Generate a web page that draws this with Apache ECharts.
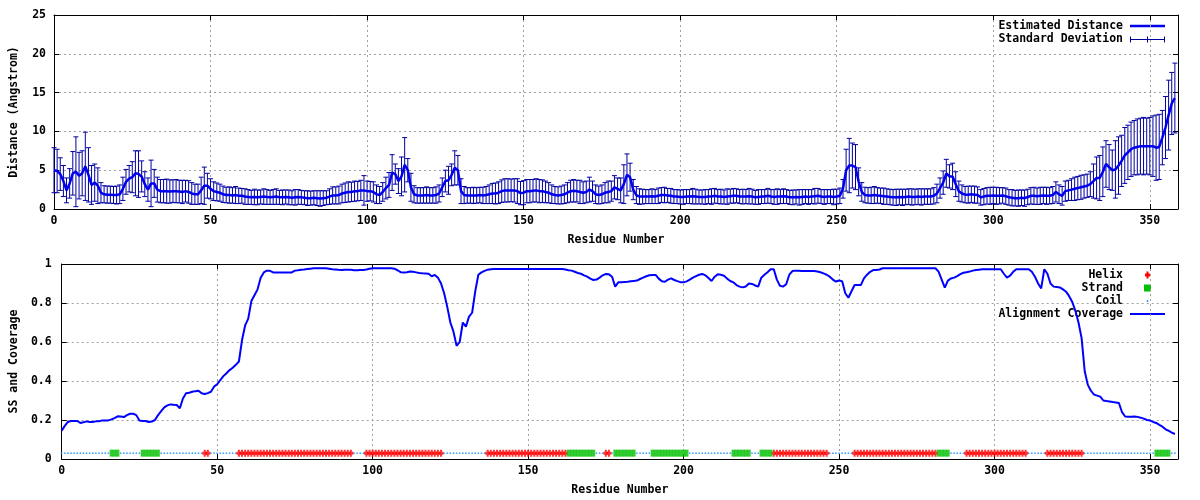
<!DOCTYPE html>
<html><head><meta charset="utf-8">
<script src="https://cdn.jsdelivr.net/npm/echarts@6/dist/echarts.min.js"></script>
<style>html,body{margin:0;padding:0;background:#fff}#c{width:1200px;height:500px}</style>
</head><body><div id="c"></div><script>
// ---------- data ----------
const FIRST_RESIDUE = 0;
const distance = [
5.0,4.9,4.5,3.6,2.4,3.3,4.6,4.8,4.3,4.6,
5.5,4.4,3.1,3.4,3.0,2.1,1.9,1.85,1.85,1.8,
1.8,1.9,2.6,3.5,3.9,4.1,4.6,4.5,4.2,3.2,
2.5,3.3,3.3,2.5,2.3,2.3,2.3,2.25,2.3,2.3,
2.25,2.2,2.3,2.2,2.0,1.9,1.9,2.4,3.0,3.0,
2.6,2.3,2.2,2.1,1.9,1.8,1.8,1.75,1.8,1.7,
1.7,1.6,1.55,1.5,1.55,1.5,1.55,1.6,1.55,1.5,
1.55,1.6,1.5,1.5,1.55,1.5,1.45,1.5,1.55,1.5,
1.45,1.4,1.4,1.45,1.4,1.35,1.4,1.45,1.6,1.75,
1.75,1.8,2.0,2.1,2.2,2.2,2.3,2.3,2.4,2.4,
2.3,2.3,2.2,1.9,1.8,2.2,2.7,3.1,4.7,4.5,
3.6,4.2,5.7,5.0,2.8,1.9,1.75,1.75,1.75,1.8,
1.75,1.75,1.8,2.0,2.8,3.6,3.7,4.4,5.3,5.0,
2.3,1.8,1.75,1.75,1.75,1.75,1.8,1.75,1.8,1.9,
2.0,2.0,2.1,2.3,2.4,2.4,2.4,2.4,2.3,2.05,
2.1,2.3,2.3,2.35,2.4,2.3,2.3,2.2,2.1,1.9,
1.8,1.75,1.8,1.9,2.1,2.3,2.35,2.3,2.2,2.1,
2.2,2.5,2.3,1.9,1.8,1.9,2.1,2.2,2.3,2.8,
2.6,2.4,3.2,4.4,4.1,2.5,1.8,1.6,1.6,1.6,
1.6,1.65,1.6,1.7,1.8,1.8,1.75,1.7,1.6,1.6,
1.55,1.55,1.6,1.6,1.65,1.6,1.55,1.55,1.55,1.6,
1.6,1.7,1.6,1.6,1.55,1.6,1.65,1.7,1.7,1.6,
1.6,1.6,1.65,1.6,1.5,1.55,1.6,1.6,1.7,1.6,
1.55,1.6,1.6,1.65,1.6,1.5,1.5,1.55,1.5,1.55,
1.6,1.55,1.6,1.65,1.7,1.6,1.55,1.6,1.6,1.55,
1.6,1.7,2.6,5.0,5.6,5.6,5.4,3.5,2.2,1.8,
1.75,1.75,1.8,1.75,1.7,1.65,1.6,1.55,1.5,1.5,
1.55,1.5,1.55,1.6,1.55,1.55,1.6,1.55,1.6,1.6,
1.6,1.7,2.0,2.7,3.4,4.6,4.2,4.2,3.2,2.3,
2.0,1.85,1.85,1.9,1.85,1.8,1.5,1.6,1.7,1.7,
1.75,1.7,1.7,1.75,1.65,1.5,1.45,1.4,1.4,1.45,
1.4,1.55,1.7,1.7,1.65,1.7,1.75,1.7,1.7,1.8,
2.2,1.9,1.7,2.3,2.4,2.5,2.6,2.7,2.8,2.9,
3.0,3.2,3.6,4.0,4.0,4.8,5.8,5.4,5.0,5.1,
5.6,6.2,6.9,7.3,7.7,7.9,8.0,8.1,8.1,8.1,
8.1,8.1,7.9,8.0,9.2,10.5,12.1,13.6,14.3
];
const stdDev = [
2.9,2.8,2.1,2.0,1.6,1.9,2.8,4.5,3.0,2.9,
4.4,3.5,2.5,2.4,2.3,1.3,1.1,1.1,1.1,1.1,
1.15,1.2,1.5,1.6,1.7,2.0,2.9,3.0,2.0,1.6,
1.5,3.0,1.8,1.6,1.5,1.5,1.55,1.5,1.45,1.5,
1.45,1.5,1.4,1.45,1.4,1.3,1.3,1.7,2.4,1.6,
1.3,1.2,1.15,1.1,1.05,1.0,1.05,1.0,1.1,1.0,
0.95,1.0,0.95,0.9,1.0,0.95,0.9,1.0,0.95,0.9,
0.95,1.0,0.9,0.95,0.9,0.95,0.9,1.0,0.95,0.9,
0.9,0.95,0.9,0.9,0.95,1.0,0.95,0.9,1.0,1.1,
1.1,1.15,1.2,1.25,1.3,1.25,1.3,1.25,1.3,1.9,
1.3,1.25,1.3,1.2,1.1,1.2,1.4,1.6,2.3,1.3,
1.6,2.5,3.5,1.5,1.8,1.1,1.0,1.0,1.0,1.05,
1.0,1.0,1.05,1.1,1.2,1.4,1.8,1.4,2.2,1.9,
1.6,1.1,1.0,1.0,1.05,1.0,1.0,1.05,1.1,1.2,
1.3,1.35,1.4,1.45,1.5,1.5,1.45,1.5,1.6,1.5,
1.55,1.5,1.5,1.45,1.5,1.5,1.45,1.4,1.3,1.2,
1.1,1.1,1.15,1.2,1.3,1.4,1.45,1.4,1.5,1.4,
1.4,1.6,1.3,1.2,1.15,1.2,1.3,1.4,1.3,1.5,
1.4,1.6,2.5,2.7,1.8,1.3,1.1,1.0,0.95,0.9,
0.9,0.95,0.9,1.0,0.95,1.0,0.9,0.95,0.9,0.9,
0.9,0.95,0.9,0.9,1.0,0.95,0.9,0.9,0.95,0.9,
1.0,0.95,0.9,0.95,0.9,1.0,0.9,0.95,0.9,0.9,
0.95,0.9,1.0,0.95,0.9,0.95,0.9,0.9,0.95,0.9,
0.95,1.0,0.9,0.95,0.9,0.9,0.95,0.9,1.0,0.95,
0.9,0.95,0.9,1.0,0.95,0.9,0.95,0.9,0.9,1.0,
0.95,1.0,1.2,2.7,3.5,2.9,2.9,1.8,1.2,1.0,
1.0,1.05,1.1,1.0,1.0,1.05,1.0,1.0,1.0,1.05,
1.0,1.05,1.0,1.0,1.05,1.0,1.0,1.05,1.0,1.0,
1.0,1.05,1.2,1.3,1.5,1.8,1.5,1.7,1.6,1.3,
1.1,1.05,1.1,1.05,1.1,1.05,1.0,1.05,1.05,1.1,
1.05,1.1,1.05,1.0,1.05,1.0,1.05,1.0,1.05,1.0,
1.05,1.0,1.05,1.1,1.05,1.1,1.05,1.1,1.05,1.1,
1.3,1.2,1.2,1.3,1.3,1.4,1.5,1.5,1.55,1.5,
1.5,1.6,2.2,2.7,2.9,3.2,3.0,2.9,2.6,3.7,
3.7,3.3,3.6,3.5,3.5,3.5,3.6,3.6,3.7,3.6,
3.7,3.9,4.2,4.2,3.5,4.0,4.5,4.0,4.5
];
const coverage = [
0.145,0.17,0.19,0.195,0.195,0.195,0.185,0.188,0.193,0.19,
0.19,0.193,0.193,0.198,0.198,0.198,0.203,0.21,0.219,0.218,
0.215,0.225,0.232,0.232,0.225,0.197,0.195,0.195,0.19,0.192,
0.2,0.225,0.245,0.265,0.275,0.28,0.278,0.277,0.26,0.31,
0.337,0.34,0.345,0.348,0.35,0.337,0.333,0.338,0.345,0.371,
0.383,0.405,0.425,0.44,0.456,0.468,0.483,0.5,0.61,0.685,
0.72,0.81,0.84,0.87,0.93,0.957,0.966,0.965,0.957,0.957,
0.957,0.957,0.957,0.957,0.957,0.966,0.968,0.971,0.972,0.974,
0.976,0.978,0.978,0.978,0.978,0.978,0.976,0.973,0.972,0.97,
0.969,0.97,0.971,0.97,0.968,0.968,0.969,0.969,0.972,0.976,
0.978,0.978,0.978,0.978,0.978,0.978,0.978,0.976,0.968,0.958,
0.956,0.958,0.961,0.96,0.957,0.954,0.952,0.951,0.95,0.937,
0.944,0.93,0.9,0.85,0.78,0.7,0.653,0.58,0.6,0.7,
0.679,0.73,0.75,0.86,0.945,0.957,0.965,0.971,0.973,0.974,
0.974,0.974,0.974,0.974,0.974,0.974,0.974,0.974,0.974,0.974,
0.974,0.974,0.974,0.974,0.974,0.974,0.974,0.974,0.974,0.974,
0.974,0.974,0.972,0.968,0.966,0.96,0.954,0.95,0.942,0.935,
0.925,0.918,0.92,0.93,0.942,0.949,0.947,0.935,0.884,0.906,
0.907,0.908,0.909,0.911,0.913,0.915,0.923,0.93,0.937,0.942,
0.944,0.944,0.925,0.911,0.909,0.92,0.926,0.918,0.912,0.907,
0.906,0.911,0.92,0.93,0.938,0.945,0.949,0.942,0.928,0.913,
0.935,0.947,0.945,0.94,0.925,0.913,0.906,0.892,0.884,0.88,
0.885,0.9,0.898,0.89,0.884,0.93,0.945,0.958,0.973,0.973,
0.92,0.888,0.884,0.896,0.945,0.964,0.966,0.965,0.964,0.964,
0.964,0.964,0.964,0.962,0.958,0.952,0.945,0.935,0.92,0.91,
0.915,0.912,0.85,0.827,0.86,0.892,0.892,0.892,0.926,0.945,
0.96,0.969,0.969,0.972,0.978,0.978,0.978,0.978,0.978,0.978,
0.978,0.978,0.978,0.978,0.978,0.978,0.978,0.978,0.978,0.978,
0.978,0.978,0.961,0.92,0.879,0.915,0.926,0.93,0.938,0.948,
0.955,0.958,0.961,0.966,0.969,0.971,0.973,0.973,0.973,0.973,
0.973,0.973,0.973,0.95,0.93,0.94,0.96,0.973,0.973,0.973,
0.973,0.973,0.96,0.935,0.9,0.875,0.973,0.95,0.9,0.884,
0.882,0.88,0.87,0.858,0.835,0.805,0.76,0.7,0.62,0.45,
0.38,0.35,0.33,0.325,0.32,0.3,0.297,0.295,0.292,0.29,
0.287,0.24,0.218,0.217,0.217,0.218,0.216,0.212,0.207,0.2,
0.197,0.19,0.185,0.175,0.166,0.152,0.145,0.135,0.128
];
const helixRanges = [[46,47],[57,93],[98,122],[137,162],[175,176],[229,246],[255,281],[291,310],[317,328]];
const strandRanges = [[16,18],[26,31],[163,171],[178,184],[190,201],[216,221],[225,228],[282,285],[352,356]];

// ---------- derived ----------
if (distance.length !== stdDev.length || distance.length !== coverage.length) {
  throw new Error('length mismatch ' + distance.length + ' ' + stdDev.length + ' ' + coverage.length);
}
const residues = distance.map((_, i) => FIRST_RESIDUE + i);
const inRanges = (r, ranges) => ranges.some(([a, b]) => r >= a && r <= b);
const SS_LEVEL = 0.03;
const helixPts = residues.filter(r => inRanges(r, helixRanges)).map(r => [r, SS_LEVEL]);
const strandPts = residues.filter(r => inRanges(r, strandRanges)).map(r => [r, SS_LEVEL]);
const coilPts = residues.filter(r => !inRanges(r, helixRanges) && !inRanges(r, strandRanges)).map(r => [r, SS_LEVEL]);

const FONT = 'DejaVu Sans Mono';
const txt = { color: '#000', fontFamily: FONT, fontWeight: 'bold', fontSize: 11.5 };
const gridLine = { show: true, lineStyle: { color: '#a0a0a0', type: [2, 3], width: 1 } };
const blackLine = { show: true, onZero: false, lineStyle: { color: '#000', width: 1 } };
const tickIn = { show: true, inside: true, length: 5, lineStyle: { color: '#000' } };

function xAxes(gi) {
  return [
    { type: 'value', gridIndex: gi, min: 0, max: 359, interval: 50, position: 'bottom',
      axisLine: blackLine, axisTick: tickIn, splitLine: gridLine,
      axisLabel: Object.assign({ margin: 6, showMaxLabel: false,
        formatter: v => (v % 50 === 0 ? String(v) : '') }, txt),
      name: 'Residue Number', nameLocation: 'middle', nameGap: 25, nameTextStyle: txt },
    { type: 'value', gridIndex: gi, min: 0, max: 359, interval: 50, position: 'top',
      axisLine: blackLine, axisTick: tickIn, splitLine: { show: false }, axisLabel: { show: false } }
  ];
}
function yAxes(gi, max, interval, name, margin, nameGap) {
  return [
    { type: 'value', gridIndex: gi, min: 0, max, interval, position: 'left',
      axisLine: blackLine, axisTick: tickIn, splitLine: gridLine,
      axisLabel: Object.assign({ margin }, txt),
      name, nameLocation: 'middle', nameGap, nameRotate: 90, nameTextStyle: txt },
    { type: 'value', gridIndex: gi, min: 0, max, interval, position: 'right',
      axisLine: blackLine, axisTick: tickIn, splitLine: { show: false }, axisLabel: { show: false } }
  ];
}

const ERR_COLOR = '#0000a0';
const LINE_COLOR = '#0000ee';
const HELIX_PATH = 'path://M1.5,0H3.5V2H5V5H3.5V7H1.5V5H0V2H1.5Z';

const legendText = (t, y) => ({ type: 'text', x: 1123, y,
  style: { text: t, align: 'right', verticalAlign: 'middle', fill: '#000',
    fontFamily: FONT, fontWeight: 'bold', fontSize: 11.5 } });

const option = {
  animation: false,
  backgroundColor: '#fff',
  grid: [
    { left: 52, right: 22, top: 15, height: 194 },
    { left: 59, right: 22, top: 264, height: 195 }
  ],
  xAxis: [...xAxes(0), ...xAxes(1)],
  yAxis: [...yAxes(0, 25, 5, 'Distance (Angstrom)', 8, 34), ...yAxes(1, 1, 0.2, 'SS and Coverage', 10, 41)],
  series: [
    { type: 'custom', name: 'Standard Deviation', xAxisIndex: 0, yAxisIndex: 0, z: 2,
      data: residues.map((r, i) => [r, distance[i] - stdDev[i], distance[i] + stdDev[i]]),
      encode: { x: 0, y: [1, 2] },
      renderItem: (params, api) => {
        const x = api.value(0);
        const lo = api.coord([x, api.value(1)]);
        const hi = api.coord([x, api.value(2)]);
        const hw = 2.5;
        const style = { stroke: ERR_COLOR, lineWidth: 1, fill: null };
        return { type: 'group', children: [
          { type: 'line', shape: { x1: lo[0], y1: lo[1], x2: hi[0], y2: hi[1] }, style },
          { type: 'line', shape: { x1: lo[0] - hw, y1: lo[1], x2: lo[0] + hw, y2: lo[1] }, style },
          { type: 'line', shape: { x1: hi[0] - hw, y1: hi[1], x2: hi[0] + hw, y2: hi[1] }, style }
        ] };
      } },
    { type: 'line', name: 'Estimated Distance', xAxisIndex: 0, yAxisIndex: 0, z: 3,
      data: residues.map((r, i) => [r, distance[i]]), showSymbol: false,
      lineStyle: { color: LINE_COLOR, width: 2.5 } },
    { type: 'scatter', name: 'Coil', xAxisIndex: 2, yAxisIndex: 2, data: coilPts,
      symbol: 'circle', symbolSize: 1.8, itemStyle: { color: '#1a8cff' }, z: 2 },
    { type: 'scatter', name: 'Helix', xAxisIndex: 2, yAxisIndex: 2, data: helixPts,
      symbol: HELIX_PATH, symbolSize: [5, 7], symbolKeepAspect: false, itemStyle: { color: '#ff0000' }, z: 3 },
    { type: 'scatter', name: 'Strand', xAxisIndex: 2, yAxisIndex: 2, data: strandPts,
      symbol: 'rect', symbolSize: [3.6, 7], itemStyle: { color: '#00c000' }, z: 3 },
    { type: 'line', name: 'Alignment Coverage', xAxisIndex: 2, yAxisIndex: 2, z: 4,
      data: residues.map((r, i) => [r, coverage[i]]), showSymbol: false,
      lineStyle: { color: '#0000ff', width: 2 } }
  ],
  graphic: [
    legendText('Estimated Distance', 26),
    { type: 'line', shape: { x1: 1130, y1: 26, x2: 1165, y2: 26 }, style: { stroke: LINE_COLOR, lineWidth: 2.5 } },
    legendText('Standard Deviation', 39),
    { type: 'line', shape: { x1: 1130, y1: 39.5, x2: 1165, y2: 39.5 }, style: { stroke: ERR_COLOR, lineWidth: 1 } },
    { type: 'line', shape: { x1: 1130.5, y1: 36.5, x2: 1130.5, y2: 42.5 }, style: { stroke: ERR_COLOR, lineWidth: 1 } },
    { type: 'line', shape: { x1: 1147.5, y1: 36.5, x2: 1147.5, y2: 42.5 }, style: { stroke: ERR_COLOR, lineWidth: 1 } },
    { type: 'line', shape: { x1: 1164.5, y1: 36.5, x2: 1164.5, y2: 42.5 }, style: { stroke: ERR_COLOR, lineWidth: 1 } },
    legendText('Helix', 275),
    { type: 'rect', shape: { x: 1146.5, y: 271.5, width: 2, height: 7 }, style: { fill: '#ff0000' } },
    { type: 'rect', shape: { x: 1145, y: 273.5, width: 5, height: 3 }, style: { fill: '#ff0000' } },
    legendText('Strand', 288),
    { type: 'rect', shape: { x: 1144, y: 284.5, width: 7, height: 7 }, style: { fill: '#00c000' } },
    legendText('Coil', 301),
    { type: 'circle', shape: { cx: 1147.5, cy: 301, r: 0.9 }, style: { fill: '#1a8cff' } },
    legendText('Alignment Coverage', 314),
    { type: 'line', shape: { x1: 1130, y1: 314, x2: 1165, y2: 314 }, style: { stroke: '#0000ff', lineWidth: 2 } }
  ]
};
const chart = echarts.init(document.getElementById('c'), null, { renderer: 'canvas' });
chart.setOption(option);
</script></body></html>
